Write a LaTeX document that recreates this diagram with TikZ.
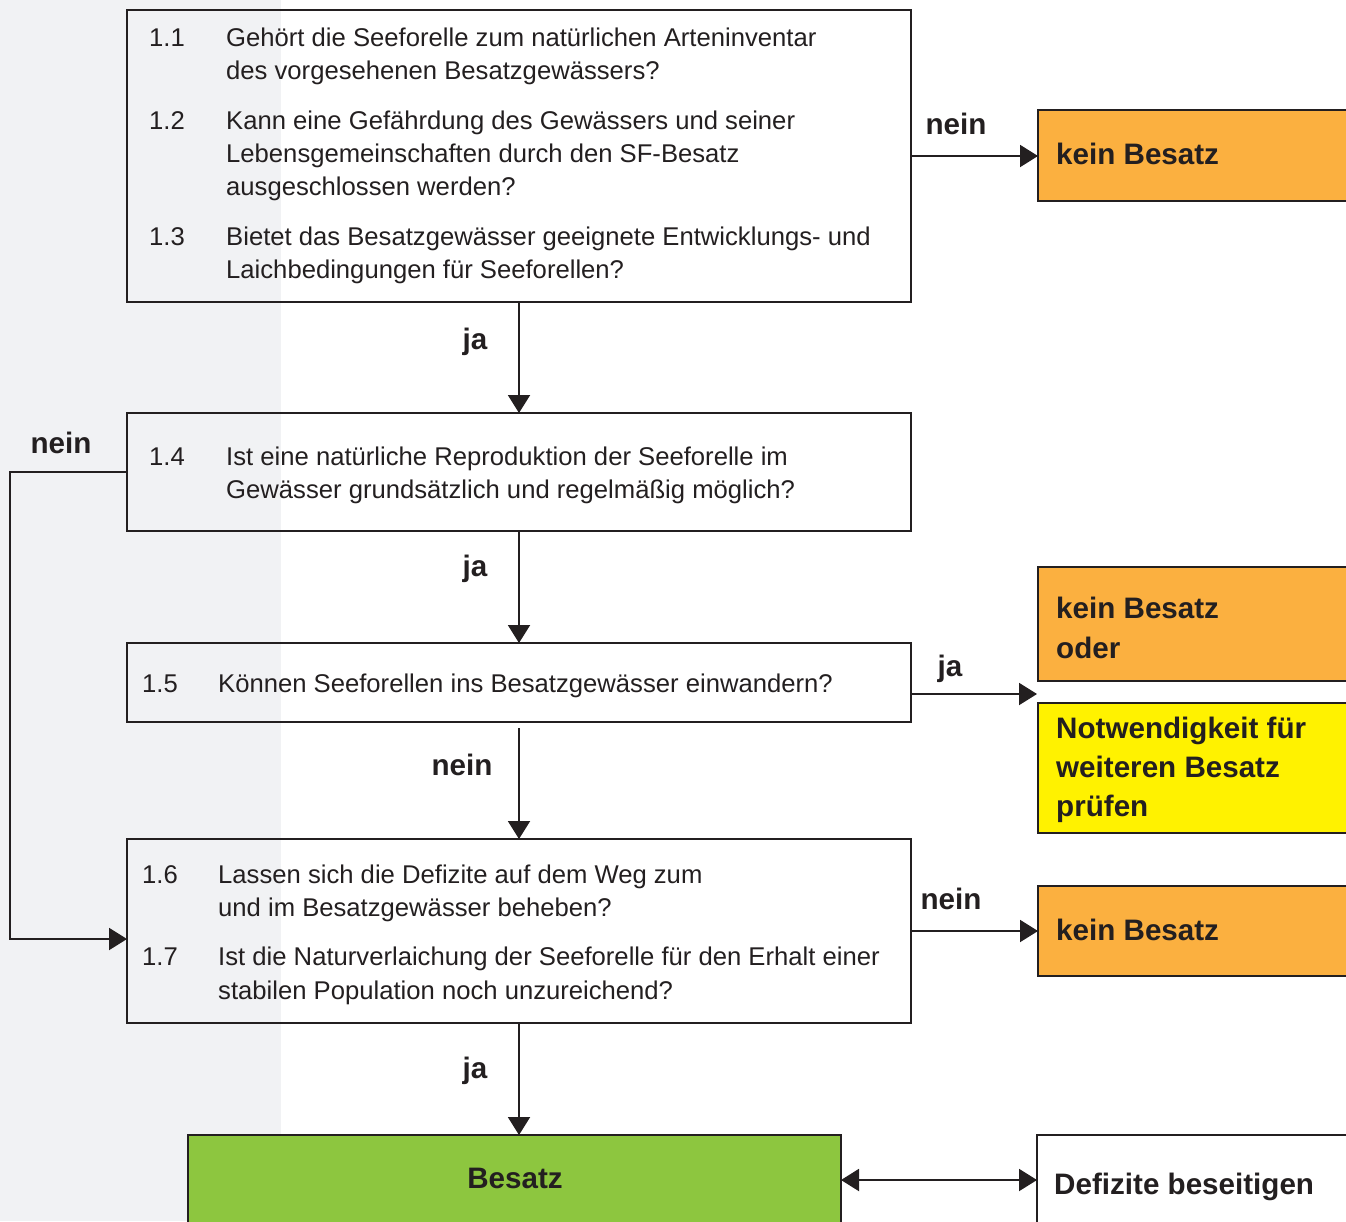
\documentclass[tikz,border=0pt]{standalone}
\usepackage{fontspec}
\setmainfont{Liberation Sans}
\usetikzlibrary{arrows.meta}
\definecolor{ink}{HTML}{231F20}
\definecolor{strip}{HTML}{F1F2F4}
\definecolor{orangebox}{HTML}{FBB040}
\definecolor{greenbox}{HTML}{8DC63F}
\definecolor{yellowbox}{HTML}{FFF200}
\tikzset{
  qbox/.style={draw=ink, line width=2pt, inner sep=0pt, outer sep=0pt, anchor=north west, fill=none},
  rbox/.style={draw=ink, line width=1.8pt, inner sep=0pt, outer sep=0pt, anchor=north west},
  txt/.style={anchor=base west, inner sep=0pt, text=ink, font=\fontsize{25.65}{33}\selectfont},
  btxt/.style={anchor=base west, inner sep=0pt, text=ink, font=\bfseries\fontsize{29.6}{40}\selectfont},
  lbl/.style={anchor=base, inner sep=0pt, text=ink, font=\bfseries\fontsize{29.6}{40}\selectfont},
  arr/.style={draw=ink, line width=2pt, -{Triangle[length=18pt,width=22pt]}},
  dbl/.style={draw=ink, line width=2pt, {Triangle[length=18pt,width=22pt]}-{Triangle[length=18pt,width=22pt]}}
}
\begin{document}
\begin{tikzpicture}[x=1pt,y=-1pt]
\useasboundingbox (0,0) rectangle (1346,1221);
\fill[strip] (0,0) rectangle (281,1221);

% question boxes
\node[qbox, minimum width=784pt, minimum height=292pt] (b1) at (127,10) {};
\node[qbox, minimum width=784pt, minimum height=118pt] (b2) at (127,413) {};
\node[qbox, minimum width=784pt, minimum height=79pt] (b3) at (127,643) {};
\node[qbox, minimum width=784pt, minimum height=184pt] (b4) at (127,839) {};

% result boxes
\node[rbox, fill=orangebox, minimum width=330pt, minimum height=91pt] (kb1) at (1038,110) {};
\node[rbox, fill=orangebox, minimum width=330pt, minimum height=114pt] (kb2) at (1038,567) {};
\node[rbox, fill=yellowbox, minimum width=330pt, minimum height=130pt] (nw) at (1038,703) {};
\node[rbox, fill=orangebox, minimum width=330pt, minimum height=90pt] (kb3) at (1038,886) {};
\node[rbox, fill=greenbox, minimum width=653pt, minimum height=110pt] (bes) at (188,1135) {};
\node[rbox, fill=white, minimum width=330pt, minimum height=110pt] (def) at (1037,1135) {};

% texts box 1
\node[txt] (n11) at (149,46.5) {1.1};
\node[txt] (t11a) at (226,46.5) {Gehört die Seeforelle zum natürlichen Arteninventar};
\node[txt] (t11b) at (226,79.5) {des vorgesehenen Besatzgewässers?};
\node[txt] (n12) at (149,129.5) {1.2};
\node[txt] (t12a) at (226,129.5) {Kann eine Gefährdung des Gewässers und seiner};
\node[txt] (t12b) at (226,162.5) {Lebensgemeinschaften durch den SF-Besatz};
\node[txt] (t12c) at (226,195.5) {ausgeschlossen werden?};
\node[txt] (n13) at (149,245.5) {1.3};
\node[txt] (t13a) at (226,245.5) {Bietet das Besatzgewässer geeignete Entwicklungs- und};
\node[txt] (t13b) at (226,278.5) {Laichbedingungen für Seeforellen?};
% box 2
\node[txt] (n14) at (149,465.5) {1.4};
\node[txt] (t14a) at (226,465.5) {Ist eine natürliche Reproduktion der Seeforelle im};
\node[txt] (t14b) at (226,498.5) {Gewässer grundsätzlich und regelmäßig möglich?};
% box 3
\node[txt] (n15) at (142,692.5) {1.5};
\node[txt] (t15a) at (218,692.5) {Können Seeforellen ins Besatzgewässer einwandern?};
% box 4
\node[txt] (n16) at (142,883.5) {1.6};
\node[txt] (t16a) at (218,883.5) {Lassen sich die Defizite auf dem Weg zum};
\node[txt] (t16b) at (218,916.5) {und im Besatzgewässer beheben?};
\node[txt] (n17) at (142,965.5) {1.7};
\node[txt] (t17a) at (218,965.5) {Ist die Naturverlaichung der Seeforelle für den Erhalt einer};
\node[txt] (t17b) at (218,999.5) {stabilen Population noch unzureichend?};

% result texts
\node[btxt] (k1) at (1056,164) {kein Besatz};
\node[btxt] (k2a) at (1056,618) {kein Besatz};
\node[btxt] (k2b) at (1056,658) {oder};
\node[btxt] (nwa) at (1056,738.5) {Notwendigkeit für};
\node[btxt] (nwb) at (1056,777.5) {weiteren Besatz};
\node[btxt] (nwc) at (1056,816.5) {prüfen};
\node[btxt] (k3) at (1056,940) {kein Besatz};
\node[lbl] (besl) at (515,1188) {Besatz};
\node[btxt] (defl) at (1054,1194) {Defizite beseitigen};

% connector labels
\node[lbl] (l1) at (956,134) {nein};
\node[lbl] (l2) at (475,349.5) {ja};
\node[lbl] (l3) at (61,453) {nein};
\node[lbl] (l4) at (475,576.5) {ja};
\node[lbl] (l5) at (950,676.5) {ja};
\node[lbl] (l6) at (462,775) {nein};
\node[lbl] (l7) at (951,909) {nein};
\node[lbl] (l8) at (475,1078.5) {ja};

% helper coordinates
\coordinate (c3) at (1037,694);
\coordinate (c4in) at (127,939);

% connectors
\draw[arr] (b1.east) -- (kb1.west |- b1.east);
\draw[arr] (b1.south) -- (b2.north);
\draw[arr] (b2.south) -- (b3.north);
\draw[arr, shorten <=6pt] (b3.south) -- (b4.north);
\draw[arr] (b3.east |- c3) -- (c3);
\draw[arr] (b4.east) -- (kb3.west |- b4.east);
\draw[arr] (b4.south) -- (b4.south |- bes.north);
\draw[arr] (b2.west) -- (10,472) |- (c4in);
\draw[dbl] (bes.east |- 0,1180) -- (def.west |- 0,1180);
\end{tikzpicture}
\end{document}
